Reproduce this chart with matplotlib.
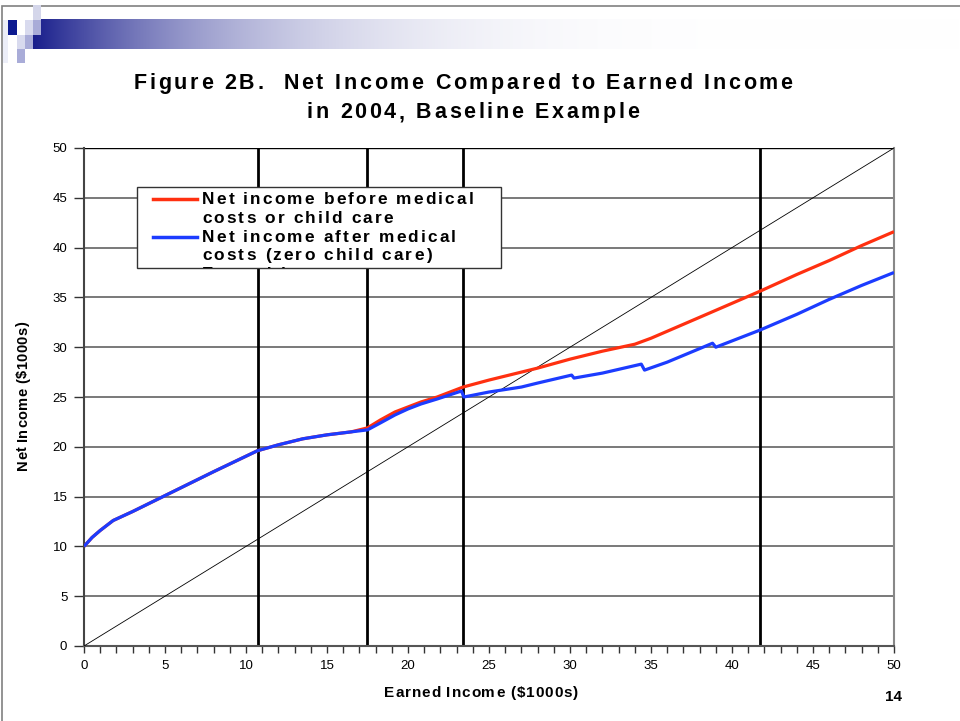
import matplotlib
matplotlib.use("Agg")
import matplotlib.pyplot as plt
from matplotlib.patches import Rectangle
from matplotlib.lines import Line2D
from matplotlib.font_manager import FontProperties, findfont
from matplotlib.ft2font import FT2Font
import numpy as np

plt.rcParams['font.family'] = ['Liberation Sans', 'DejaVu Sans']

# earned income ($1000s) vs net income ($1000s)
before_x = [0, 0.5, 1, 1.8, 3, 4, 6, 8, 10.7, 12, 13.5, 15, 16.5, 17.5, 18.3,
            19.2, 20, 20.8, 21.8, 23.4, 25, 27, 28, 30, 32, 34, 35, 38, 41.7,
            44, 46, 48, 50]
before_y = [10, 10.9, 11.6, 12.6, 13.5, 14.3, 15.9, 17.5, 19.6, 20.2, 20.8,
            21.2, 21.5, 21.9, 22.7, 23.5, 24.0, 24.5, 25.0, 26.0, 26.7, 27.5,
            27.9, 28.8, 29.6, 30.3, 30.9, 33.0, 35.6, 37.3, 38.7, 40.2, 41.6]

after_x = [0, 0.5, 1, 1.8, 3, 4, 6, 8, 10.7, 12, 13.5, 15, 16.5, 17.5, 18.3,
           19.2, 20, 20.8, 21.8, 23.3, 23.45, 25, 27, 28, 30.1, 30.25, 32,
           34.4, 34.6, 36, 38.8, 39.0, 41.7, 44, 46, 48, 50]
after_y = [10, 10.9, 11.6, 12.6, 13.5, 14.3, 15.9, 17.5, 19.6, 20.2, 20.8,
           21.2, 21.5, 21.7, 22.4, 23.2, 23.8, 24.3, 24.8, 25.6, 25.0, 25.5,
           26.0, 26.4, 27.2, 26.9, 27.4, 28.3, 27.7, 28.5, 30.4, 30.0, 31.7,
           33.3, 34.8, 36.2, 37.5]

earned_x = [0, 50]
earned_y = [0, 50]

# program thresholds marked with vertical lines
thresholds = [10.74, 17.47, 23.4, 41.7]

legend_lines = ["Net income before medical", "costs or child care",
                "Net income after medical", "costs (zero child care)",
                "Earned income"]
legend_colors = ['#ff3010', '#1c3cff', 'black']

RED = '#ff3010'
BLUE = '#1c3cff'

fig = plt.figure(figsize=(9.6, 7.21), dpi=100)
W, H = 960.0, 721.0


def fbox(x0, y0, x1, y1):
    # pixel box (top-left origin) -> figure fraction rect
    return [x0 / W, 1 - y1 / H, (x1 - x0) / W, (y1 - y0) / H]


def tracked(x, y, s, size, track, ha='center', rotation=0, clip=None, zorder=3):
    # bold text with extra letter spacing, x/y = baseline anchor in pixels
    fp = FontProperties(family='Liberation Sans', weight='bold', size=size)
    font = FT2Font(findfont(fp))
    font.set_size(size, 100)
    adv = [font.load_char(ord(c)).linearHoriAdvance / 65536 for c in s]
    total = sum(adv) + track * (len(s) - 1)
    pos = -total / 2 if ha == 'center' else 0.0
    th = np.deg2rad(rotation)
    for c, a in zip(s, adv):
        px = x + pos * np.cos(th)
        py = y - pos * np.sin(th)
        t = fig.text(px / W, 1 - py / H, c, fontproperties=fp, rotation=rotation,
                     rotation_mode='anchor', ha='left', va='baseline', zorder=zorder)
        if clip is not None:
            t.set_clip_path(clip)
        pos += a + track


# slide frame
fig.add_artist(Rectangle((2 / W, -0.1), 1.2, 1.1 - 6 / H, transform=fig.transFigure,
                         fill=False, edgecolor='#808080', lw=1.2))

# header gradient bar
bar = fig.add_axes(fbox(33, 19, 960, 49))
t = np.linspace(0, 1, 600)
m = 1 - (1 - t) ** 4.3
navy = np.array([0.10, 0.12, 0.55])
grad = navy[None, :] * (1 - m[:, None]) + m[:, None]
bar.imshow(grad[None, :, :], aspect='auto', extent=[0, 1, 0, 1])
bar.axis('off')

# little squares at the top-left corner
squares = [((8, 20, 17, 35), '#0c1a90'),
           ((33, 5, 41, 20), '#d4d6ea'),
           ((33, 20, 41, 35), '#a9acd8'),
           ((25, 20, 33, 35), '#d8daee'),
           ((17, 35, 25, 49), '#d8daee'),
           ((25, 35, 33, 49), '#a9acd8'),
           ((17, 49, 25, 63), '#a9acd8'),
           ((3, 20, 8, 63), '#eceef8')]
for (x0, y0, x1, y1), c in squares:
    fig.add_artist(Rectangle((x0 / W, 1 - y1 / H), (x1 - x0) / W, (y1 - y0) / H,
                             transform=fig.transFigure, color=c, lw=0))

# chart
ax = fig.add_axes(fbox(84, 148, 894, 646))
ax.set_xlim(0, 50)
ax.set_ylim(0, 50)

for yv in range(5, 50, 5):
    ax.axhline(yv, color='#555555', lw=1.1, zorder=1)
ax.axhline(50, color='black', lw=1.0, zorder=1)
for xv in thresholds:
    ax.axvline(xv, color='black', lw=2.0, zorder=2)

ax.plot(earned_x, earned_y, color='black', lw=0.6, zorder=3)
ax.plot(before_x, before_y, color=RED, lw=2.3, zorder=4, solid_capstyle='butt')
ax.plot(after_x, after_y, color=BLUE, lw=2.3, zorder=5, solid_capstyle='butt')

ax.set_xticks(range(0, 51, 5))
ax.set_xticks(range(0, 51, 1), minor=True)
ax.set_yticks(range(0, 51, 5))
ax.tick_params(axis='both', which='both', direction='out', length=5,
               width=1, color='#333333', labelsize=9.5, pad=5)
ax.tick_params(axis='y', which='major', length=7)
ax.spines['top'].set_visible(False)
ax.spines['left'].set_color('#444444')
ax.spines['left'].set_linewidth(1.5)
ax.spines['bottom'].set_color('#555555')
ax.spines['bottom'].set_linewidth(1.5)
ax.spines['right'].set_color('#888888')
ax.spines['right'].set_linewidth(1.5)

# titles and axis labels
tracked(463, 89, 'Figure 2B.  Net Income Compared to Earned Income', 15.5, 2.7)
tracked(473, 118, 'in 2004, Baseline Example', 15.5, 2.7)
tracked(481, 697, 'Earned Income ($1000s)', 11, 0.9)
tracked(27, 396, 'Net Income ($1000s)', 10.5, 0.4, rotation=90)
fig.text(893 / W, 1 - 701 / H, '14', ha='center', va='baseline',
         fontsize=11, fontweight='bold')

# legend box, the last entry is cut off by the frame
lx0, ly0, lx1, ly1 = 137, 187, 501, 268
box = Rectangle((lx0 / W, 1 - ly1 / H), (lx1 - lx0) / W, (ly1 - ly0) / H,
                transform=fig.transFigure, facecolor='white',
                edgecolor='#333333', lw=1.0, zorder=10)
fig.add_artist(box)
for i, line in enumerate(legend_lines):
    base = 204 + 18.8 * i
    if i % 2 == 0:
        c = legend_colors[i // 2]
        ln = Line2D([153 / W, 197 / W], [1 - (base - 5) / H] * 2,
                    transform=fig.transFigure, color=c,
                    lw=2.5 if c != 'black' else 1, zorder=11)
        ln.set_clip_path(box)
        fig.add_artist(ln)
    tracked(202, base, line, 12.4, 2.15, ha='left', clip=box, zorder=11)

fig.savefig('out.png', dpi=100)
